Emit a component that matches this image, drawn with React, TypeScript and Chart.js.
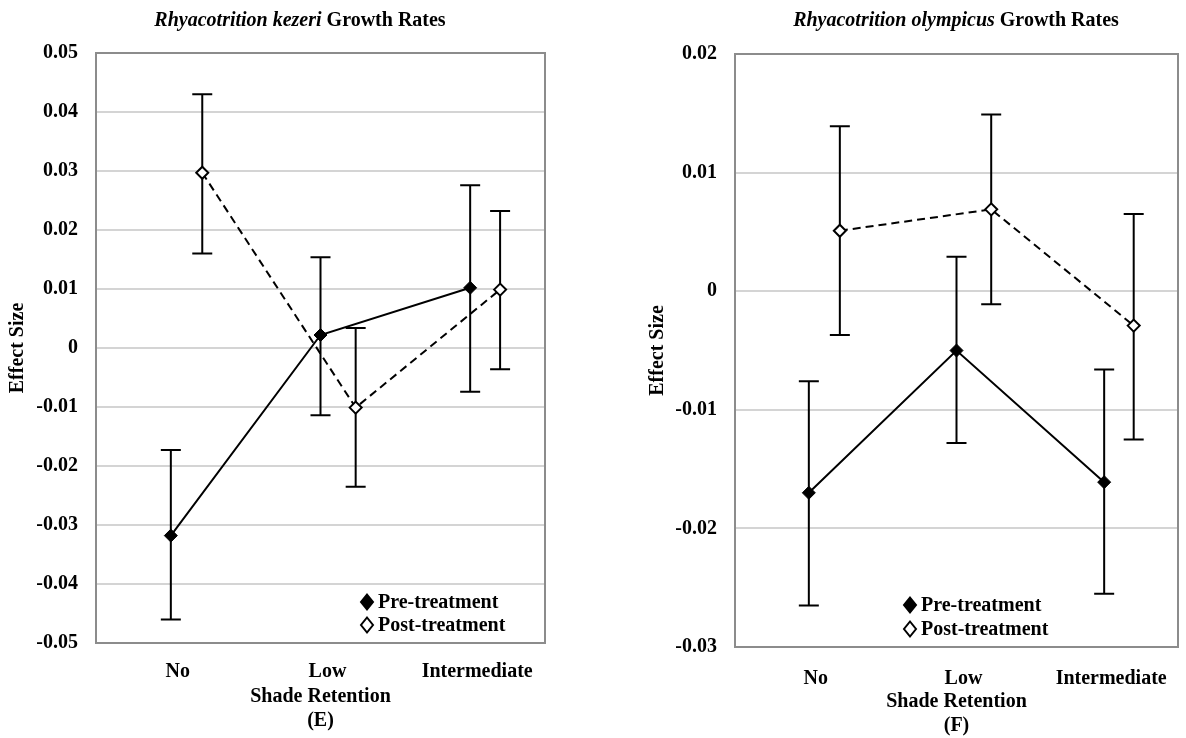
import React, { useEffect, useRef } from "react";
import { Chart, registerables } from "chart.js";

Chart.register(...registerables);

// ---------- data ----------
const categories = ["No", "Low", "Intermediate"];
const preX = [1, 2, 3];
const postX = [1.21, 2.235, 3.2];

// (E) Rhyacotrition kezeri
const kezeriPre = [-0.0318, 0.0022, 0.0102];
const kezeriPreHigh = [-0.0173, 0.0154, 0.0276];
const kezeriPreLow = [-0.046, -0.0114, -0.0074];
const kezeriPost = [0.0297, -0.0101, 0.0099];
const kezeriPostHigh = [0.043, 0.0034, 0.0232];
const kezeriPostLow = [0.016, -0.0235, -0.0036];
const kezeriTicks = [-0.05, -0.04, -0.03, -0.02, -0.01, 0, 0.01, 0.02, 0.03, 0.04, 0.05];

// (F) Rhyacotrition olympicus
const olympicusPre = [-0.017, -0.005, -0.0161];
const olympicusPreHigh = [-0.0076, 0.0029, -0.0066];
const olympicusPreLow = [-0.0265, -0.0128, -0.0255];
const olympicusPost = [0.0051, 0.0069, -0.0029];
const olympicusPostHigh = [0.0139, 0.0149, 0.0065];
const olympicusPostLow = [-0.0037, -0.0011, -0.0125];
const olympicusTicks = [-0.03, -0.02, -0.01, 0, 0.01, 0.02];

const seriesLabels = ["Pre-treatment", "Post-treatment"];
const xAxisTitle = "Shade Retention";
const yAxisTitle = "Effect Size";

// ---------- styling ----------
const FAMILY = '"Liberation Serif", "Times New Roman", serif';
const font = { family: FAMILY, size: 20, weight: "bold" as const, lineHeight: 1.2 };

type PanelLayout = {
  left: number;
  width: number;
  padTop: number;
  padRight: number;
  yAxisWidth: number;
  xAxisHeight: number;
  yTitlePad: number;
  xTitlePad: number;
  xTickPad: number;
  titleX: number;
  legendDx: number;
  legendRows: number[];
};

type Panel = {
  species: string;
  letter: string;
  yTicks: number[];
  pre: number[];
  preHigh: number[];
  preLow: number[];
  post: number[];
  postHigh: number[];
  postLow: number[];
  layout: PanelLayout;
};

const panels: Panel[] = [
  {
    species: "Rhyacotrition kezeri",
    letter: "(E)",
    yTicks: kezeriTicks,
    pre: kezeriPre,
    preHigh: kezeriPreHigh,
    preLow: kezeriPreLow,
    post: kezeriPost,
    postHigh: kezeriPostHigh,
    postLow: kezeriPostLow,
    layout: {
      left: 0,
      width: 575,
      padTop: 53,
      padRight: 30,
      yAxisWidth: 96,
      xAxisHeight: 95,
      yTitlePad: 6,
      xTitlePad: 5,
      xTickPad: 17,
      titleX: 300,
      legendDx: 271,
      legendRows: [41, 18],
    },
  },
  {
    species: "Rhyacotrition olympicus",
    letter: "(F)",
    yTicks: olympicusTicks,
    pre: olympicusPre,
    preHigh: olympicusPreHigh,
    preLow: olympicusPreLow,
    post: olympicusPost,
    postHigh: olympicusPostHigh,
    postLow: olympicusPostLow,
    layout: {
      left: 620,
      width: 566,
      padTop: 54,
      padRight: 2,
      yAxisWidth: 115,
      xAxisHeight: 91,
      yTitlePad: 26,
      xTitlePad: 0,
      xTickPad: 20,
      titleX: 336,
      legendDx: 175,
      legendRows: [42, 18],
    },
  },
];

// ---------- plugins ----------
const errorBarPlugin = {
  id: "errorBars",
  beforeDatasetsDraw(chart: any) {
    const { ctx } = chart;
    const xs = chart.scales.x;
    const ys = chart.scales.y;
    chart.data.datasets.forEach((ds: any) => {
      ds.data.forEach((pt: any, i: number) => {
        const px = xs.getPixelForValue(pt.x);
        const yHi = ys.getPixelForValue(ds.errHigh[i]);
        const yLo = ys.getPixelForValue(ds.errLow[i]);
        ctx.save();
        ctx.strokeStyle = "#000";
        ctx.lineWidth = 2;
        ctx.beginPath();
        ctx.moveTo(px, yHi);
        ctx.lineTo(px, yLo);
        ctx.moveTo(px - 10, yHi);
        ctx.lineTo(px + 10, yHi);
        ctx.moveTo(px - 10, yLo);
        ctx.lineTo(px + 10, yLo);
        ctx.stroke();
        ctx.restore();
      });
    });
  },
};

const framePlugin = {
  id: "frame",
  beforeDatasetsDraw(chart: any) {
    const { ctx, chartArea: a } = chart;
    ctx.save();
    ctx.strokeStyle = "#8c8c8c";
    ctx.lineWidth = 2;
    ctx.strokeRect(a.left, a.top, a.right - a.left, a.bottom - a.top);
    ctx.restore();
  },
};

function overlayPlugin(p: Panel) {
  return {
    id: "overlay",
    afterDraw(chart: any) {
      const { ctx, chartArea: a } = chart;
      ctx.save();
      // title with italic species name
      const italicFont = `italic bold 20px ${FAMILY}`;
      const boldFont = `bold 20px ${FAMILY}`;
      const rest = " Growth Rates";
      ctx.font = italicFont;
      const w1 = ctx.measureText(p.species).width;
      ctx.font = boldFont;
      const w2 = ctx.measureText(rest).width;
      const x0 = p.layout.titleX - (w1 + w2) / 2;
      ctx.fillStyle = "#000";
      ctx.textBaseline = "middle";
      ctx.textAlign = "left";
      ctx.font = italicFont;
      ctx.fillText(p.species, x0, 21);
      ctx.font = boldFont;
      ctx.fillText(rest, x0 + w1, 21);

      // legend inside plot area
      const lx = a.left + p.layout.legendDx;
      chart.data.datasets.forEach((ds: any, i: number) => {
        const ly = a.bottom - p.layout.legendRows[i];
        ctx.beginPath();
        ctx.moveTo(lx, ly - 7.5);
        ctx.lineTo(lx + 6, ly);
        ctx.lineTo(lx, ly + 7.5);
        ctx.lineTo(lx - 6, ly);
        ctx.closePath();
        ctx.fillStyle = ds.pointBackgroundColor;
        ctx.fill();
        ctx.lineWidth = 2;
        ctx.strokeStyle = "#000";
        ctx.stroke();
        ctx.fillStyle = "#000";
        ctx.font = boldFont;
        ctx.textBaseline = "middle";
        ctx.fillText(ds.label, lx + 11, ly + 1);
      });
      ctx.restore();
    },
  };
}

const fmtTick = (v: number) => (Math.abs(v) < 1e-9 ? "0" : v.toFixed(2));

function buildChart(canvas: HTMLCanvasElement, p: Panel) {
  const L = p.layout;
  return new Chart(canvas, {
    type: "scatter",
    data: {
      datasets: [
        {
          label: seriesLabels[0],
          data: preX.map((x, i) => ({ x, y: p.pre[i] })),
          errHigh: p.preHigh,
          errLow: p.preLow,
          showLine: true,
          borderColor: "#000",
          borderWidth: 2,
          pointStyle: "rectRot",
          pointRadius: 6.5,
          pointBackgroundColor: "#000",
          pointBorderColor: "#000",
          pointBorderWidth: 1,
        } as any,
        {
          label: seriesLabels[1],
          data: postX.map((x, i) => ({ x, y: p.post[i] })),
          errHigh: p.postHigh,
          errLow: p.postLow,
          showLine: true,
          borderColor: "#000",
          borderWidth: 2,
          borderDash: [8, 5],
          pointStyle: "rectRot",
          pointRadius: 6,
          pointBackgroundColor: "#fff",
          pointBorderColor: "#000",
          pointBorderWidth: 2,
        } as any,
      ],
    },
    options: {
      responsive: false,
      animation: false,
      events: [],
      layout: { padding: { top: L.padTop, right: L.padRight, left: 0, bottom: 0 } },
      plugins: {
        legend: { display: false },
        tooltip: { enabled: false },
        title: { display: false },
      },
      scales: {
        x: {
          type: "linear",
          min: 0.5,
          max: 3.5,
          grid: { display: false, drawTicks: false },
          border: { display: false },
          afterBuildTicks: (s: any) => {
            s.ticks = preX.map((v) => ({ value: v }));
          },
          afterFit: (s: any) => {
            s.height = L.xAxisHeight;
          },
          ticks: {
            autoSkip: false,
            maxRotation: 0,
            minRotation: 0,
            padding: L.xTickPad,
            labelOffset: 7,
            color: "#000",
            font,
            callback: (v: any) => categories[preX.indexOf(Number(v))] ?? "",
          },
          title: {
            display: true,
            text: [xAxisTitle, p.letter],
            color: "#000",
            font,
            padding: { top: 0, bottom: L.xTitlePad },
          },
        },
        y: {
          type: "linear",
          min: p.yTicks[0],
          max: p.yTicks[p.yTicks.length - 1],
          afterBuildTicks: (s: any) => {
            s.ticks = p.yTicks.map((v) => ({ value: v }));
          },
          afterFit: (s: any) => {
            s.width = L.yAxisWidth;
          },
          grid: { color: "#d4d4d4", lineWidth: 2, drawTicks: false },
          border: { display: false },
          ticks: {
            padding: 18,
            color: "#000",
            font,
            callback: (v: any) => fmtTick(Number(v)),
          },
          title: {
            display: true,
            text: yAxisTitle,
            color: "#000",
            font,
            padding: { top: L.yTitlePad, bottom: 0 },
          },
        },
      },
    } as any,
    plugins: [framePlugin, errorBarPlugin, overlayPlugin(p)],
  });
}

function PanelChart({ panel }: { panel: Panel }) {
  const ref = useRef<HTMLCanvasElement | null>(null);
  useEffect(() => {
    if (!ref.current) return;
    const chart = buildChart(ref.current, panel);
    return () => chart.destroy();
  }, [panel]);
  return (
    <canvas
      ref={ref}
      width={panel.layout.width}
      height={738}
      style={{
        position: "absolute",
        left: panel.layout.left,
        top: 0,
        width: panel.layout.width,
        height: 738,
      }}
    />
  );
}

export default function App() {
  return (
    <div
      style={{
        position: "fixed",
        left: 0,
        top: 0,
        width: 1186,
        height: 738,
        background: "#fff",
        overflow: "hidden",
      }}
    >
      {panels.map((p) => (
        <PanelChart key={p.letter} panel={p} />
      ))}
    </div>
  );
}
